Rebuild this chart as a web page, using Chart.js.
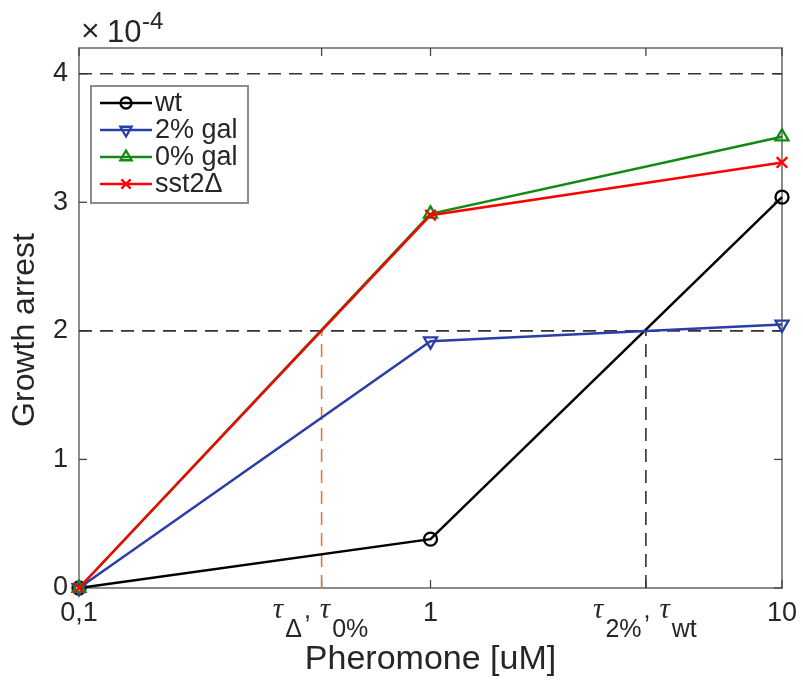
<!DOCTYPE html>
<html>
<head>
<meta charset="utf-8">
<script src="https://cdn.jsdelivr.net/npm/chart.js@4.4.1/dist/chart.umd.min.js"></script>
<style>
  body { margin: 0; background: #fff; }
</style>
</head>
<body>
<canvas id="myChart" width="803" height="681"></canvas>
<script>
// values are in units of 1e-4
const pheromone = [0.1, 1, 10];
const wt = [0, 0.38, 3.04];
const gal2 = [0, 1.92, 2.05];
const gal0 = [0, 2.91, 3.51];
const sst2 = [0, 2.90, 3.31];

const seriesNames = ['wt', '2% gal', '0% gal', 'sst2\u0394'];
const xTicks = [0.1, 1, 10];
const xTickLabels = ['0,1', '1', '10'];
const yTicks = [0, 1, 2, 3, 4];
const threshold = 2;
const topLine = 4;
const tauX = [0.49, 4.1];
const tauSubs = [['\u0394', '0%'], ['2%', 'wt']];

const colors = ['#000000', '#2a3ea6', '#128a12', '#ff0000'];
const styles = [
  { pointStyle: 'circle', radius: 6.5, rotation: 0 },
  { pointStyle: 'triangle', radius: 7.5, rotation: 180 },
  { pointStyle: 'triangle', radius: 7.5, rotation: 0 },
  { pointStyle: 'crossRot', radius: 7.5, rotation: 0 }
];
const textColor = '#262626';
const frameColor = '#8c8c8c';
const sans = '"Liberation Sans", Arial, sans-serif';

function pts(xs, ys) {
  return xs.map((x, i) => ({ x: x, y: ys[i] }));
}

function series(i, values) {
  return {
    label: seriesNames[i],
    data: pts(pheromone, values),
    borderColor: colors[i],
    backgroundColor: 'rgba(0,0,0,0)',
    pointBorderColor: colors[i],
    pointBackgroundColor: 'rgba(0,0,0,0)',
    pointStyle: styles[i].pointStyle,
    pointRadius: styles[i].radius,
    pointRotation: styles[i].rotation,
    pointBorderWidth: 2.3,
    borderWidth: 2.5,
    tension: 0,
    clip: false,
    order: 3 - i
  };
}

function dashed(data, color) {
  return {
    label: '',
    data: data,
    borderColor: color,
    borderWidth: 1.6,
    borderDash: [13, 8],
    pointRadius: 0,
    tension: 0,
    order: 10
  };
}

const datasets = [
  series(0, wt),
  series(1, gal2),
  series(2, gal0),
  series(3, sst2),
  dashed([{ x: pheromone[0], y: topLine }, { x: pheromone[2], y: topLine }], '#333333'),
  dashed([{ x: pheromone[0], y: threshold }, { x: pheromone[2], y: threshold }], '#333333'),
  dashed([{ x: tauX[0], y: 0 }, { x: tauX[0], y: threshold }], '#e0783f'),
  dashed([{ x: tauX[1], y: 0 }, { x: tauX[1], y: threshold }], '#333333')
];

function line(ctx, x1, y1, x2, y2) {
  ctx.beginPath();
  ctx.moveTo(x1, y1);
  ctx.lineTo(x2, y2);
  ctx.stroke();
}

const frame = {
  id: 'frame',
  beforeDatasetsDraw(chart) {
    const { ctx, chartArea: a, scales: { x, y } } = chart;
    ctx.save();
    ctx.strokeStyle = frameColor;
    ctx.lineWidth = 2;
    ctx.strokeRect(a.left, a.top, a.right - a.left, a.bottom - a.top);
    ctx.strokeStyle = '#444';
    ctx.lineWidth = 1.3;
    yTicks.forEach(v => {
      const py = y.getPixelForValue(v);
      line(ctx, a.left, py, a.left + 8, py);
      line(ctx, a.right - 8, py, a.right, py);
    });
    xTicks.concat(tauX).forEach(v => {
      const px = x.getPixelForValue(v);
      line(ctx, px, a.bottom, px, a.bottom - 8);
      line(ctx, px, a.top, px, a.top + 8);
    });
    ctx.restore();
  }
};

const overlay = {
  id: 'overlay',
  afterDatasetsDraw(chart) {
    const { ctx, chartArea: a, scales: { x } } = chart;
    ctx.save();

    // legend box inside the axes
    const lx = a.left + 12, ly = a.top + 38, lw = 157, lh = 117;
    ctx.fillStyle = '#fff';
    ctx.fillRect(lx, ly, lw, lh);
    ctx.strokeStyle = frameColor;
    ctx.lineWidth = 2;
    ctx.strokeRect(lx, ly, lw, lh);
    ctx.font = '27px ' + sans;
    ctx.textBaseline = 'middle';
    ctx.textAlign = 'left';
    seriesNames.forEach((name, i) => {
      const ry = ly + 17 + i * 27;
      ctx.strokeStyle = colors[i];
      ctx.lineWidth = 2.5;
      line(ctx, lx + 9, ry, lx + 61, ry);
      ctx.fillStyle = 'rgba(0,0,0,0)';
      ctx.lineWidth = 2.3;
      Chart.helpers.drawPoint(ctx, {
        pointStyle: styles[i].pointStyle,
        radius: styles[i].radius - 1,
        rotation: styles[i].rotation,
        borderWidth: 2.3
      }, lx + 35, ry);
      ctx.fillStyle = textColor;
      ctx.fillText(name, lx + 64, ry + 1);
    });

    // y axis title
    ctx.save();
    ctx.translate(25, 330);
    ctx.rotate(-Math.PI / 2);
    ctx.textAlign = 'center';
    ctx.textBaseline = 'middle';
    ctx.font = '32px ' + sans;
    ctx.fillStyle = textColor;
    ctx.fillText('Growth arrest', 0, 0);
    ctx.restore();

    // exponent label
    ctx.fillStyle = textColor;
    ctx.textBaseline = 'alphabetic';
    ctx.font = '32px ' + sans;
    ctx.fillText('\u00d7', a.left + 2, 41);
    ctx.font = '31px ' + sans;
    ctx.fillText('10', a.left + 28, 42);
    ctx.font = '24px ' + sans;
    ctx.fillText('-4', a.left + 63, 29);

    // tau tick labels
    const mainFont = 'italic 29px "Liberation Serif", "DejaVu Serif", serif';
    const subFont = '25px ' + sans;
    tauX.forEach((tx, k) => {
      const parts = [
        ['\u03c4', mainFont, 0], [tauSubs[k][0], subFont, 19],
        [', ', subFont, 0],
        ['\u03c4', mainFont, 0], [tauSubs[k][1], subFont, 19]
      ];
      let total = 0;
      parts.forEach(p => { ctx.font = p[1]; total += ctx.measureText(p[0]).width + 2; });
      let cx = x.getPixelForValue(tx) - total / 2;
      const base = a.bottom + 30;
      parts.forEach(p => {
        ctx.font = p[1];
        ctx.fillText(p[0], cx, base + p[2]);
        cx += ctx.measureText(p[0]).width + 2;
      });
    });
    ctx.restore();
  }
};

const config = {
  type: 'line',
  data: { datasets: datasets },
  options: {
    responsive: false,
    animation: false,
    layout: { padding: { top: 48, right: 21, left: 0, bottom: 0 } },
    plugins: {
      legend: { display: false },
      tooltip: { enabled: false }
    },
    scales: {
      x: {
        type: 'logarithmic',
        min: 0.1,
        max: 10,
        grid: { display: false, drawTicks: false },
        border: { display: false },
        afterBuildTicks: scale => { scale.ticks = xTicks.map(v => ({ value: v })); },
        afterFit: scale => {
          scale.height = 93;
          scale.paddingLeft = 0;
          scale.paddingRight = 0;
        },
        ticks: {
          autoSkip: false,
          maxRotation: 0,
          padding: 9,
          color: textColor,
          font: { family: sans, size: 27 },
          callback: (value, index) => xTickLabels[index]
        },
        title: {
          display: true,
          text: 'Pheromone [uM]',
          color: textColor,
          font: { family: sans, size: 34 },
          padding: { top: 0, bottom: 1 }
        }
      },
      y: {
        min: 0,
        max: 4.2,
        grid: { display: false, drawTicks: false },
        border: { display: false },
        afterBuildTicks: scale => { scale.ticks = yTicks.map(v => ({ value: v })); },
        afterFit: scale => { scale.width = 79; },
        ticks: {
          padding: 11,
          color: textColor,
          font: { family: sans, size: 27 }
        },
        title: { display: false }
      }
    }
  },
  plugins: [frame, overlay]
};

const myChart = new Chart(document.getElementById('myChart'), config);
</script>
</body>
</html>
